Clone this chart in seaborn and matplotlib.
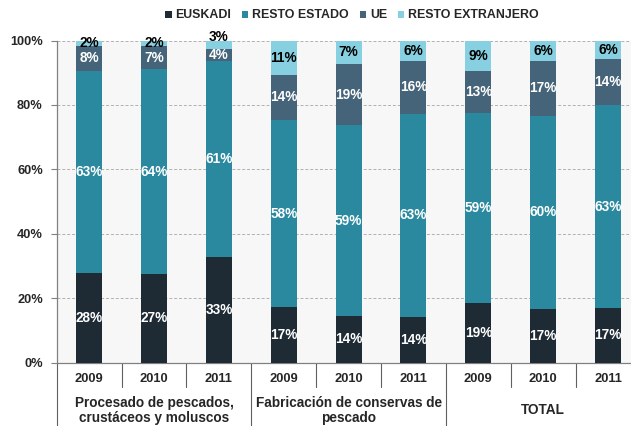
import numpy as np
import pandas as pd
import matplotlib
matplotlib.use("Agg")
import matplotlib.pyplot as plt
import seaborn as sns

## data (share of sales, %)
groups = ["Procesado de pescados,\ncrustáceos y moluscos",
          "Fabricación de conservas de\npescado",
          "TOTAL"]
years = ["2009", "2010", "2011"]
series = ["EUSKADI", "RESTO ESTADO", "UE", "RESTO EXTRANJERO"]
euskadi = [27.7, 27.4, 32.7, 17.1, 14.4, 14.1, 18.6, 16.6, 16.9]
resto_estado = [62.8, 63.6, 60.9, 58.2, 59.3, 63.2, 58.9, 60.0, 63.0]
ue = [7.9, 7.4, 3.8, 14.0, 19.0, 16.3, 13.1, 17.0, 14.3]
resto_extranjero = [1.6, 1.6, 2.6, 10.7, 7.3, 6.4, 9.4, 6.4, 5.8]

colors = ["#1e2b35", "#2a899f", "#456479", "#87d0e1"]
txt_colors = ["white", "white", "white", "black"]

sns.set_style("white")
plt.rcParams["font.family"] = ["Liberation Sans", "DejaVu Sans"]
plt.rcParams["font.weight"] = "bold"

cats = ["{}-{}".format(g, y) for g in range(len(groups)) for y in years]
vals = np.array([euskadi, resto_estado, ue, resto_extranjero])
cum = np.cumsum(vals, axis=0)

fig = plt.figure(figsize=(6.31, 4.26), dpi=100)
ax = fig.add_axes([56.7 / 631, 1 - 362.5 / 426, (640.5 - 56.7) / 631, 322 / 426])
ax.set_facecolor("#f7f7f7")

## stacked bars: draw cumulative totals from the top layer down
for i in range(len(series) - 1, -1, -1):
    df = pd.DataFrame({"cat": cats, "val": cum[i]})
    sns.barplot(data=df, x="cat", y="val", color=colors[i], width=0.4,
                saturation=1, ax=ax, label=series[i], zorder=3, linewidth=0)
handles, labels = ax.get_legend_handles_labels()
if ax.get_legend() is not None:
    ax.get_legend().remove()

## segment labels
for i in range(len(series)):
    for j in range(len(cats)):
        mid = cum[i, j] - vals[i, j] / 2
        # thin top segment over a thin UE segment: label sits above the bar
        if i == 3 and vals[i, j] > 2 and vals[i, j] < 3:
            mid = 101
        ax.text(j, mid, "{:.0f}%".format(vals[i, j]), ha="center", va="center",
                color=txt_colors[i], fontsize=9.8, fontweight="bold", zorder=5,
                clip_on=False)

ax.set_xlim(-0.5, 8.5)
ax.set_ylim(0, 100)
ax.set_yticks(np.arange(0, 101, 20))
ax.set_yticklabels(["{}%".format(v) for v in range(0, 101, 20)], fontsize=9.2,
                   fontweight="bold")
ax.tick_params(axis="y", length=4, width=0.8, color="#808080", pad=6, left=True)
ax.set_xticks([])
ax.set_xlabel("")
ax.set_ylabel("")
ax.yaxis.grid(True, linestyle=(0, (3, 2)), color="#b0b0b0", linewidth=0.7, zorder=0)
for s in ["top", "right"]:
    ax.spines[s].set_visible(False)
for s in ["left", "bottom"]:
    ax.spines[s].set_color("#808080")
    ax.spines[s].set_linewidth(0.9)

## category axis below the bars
trans = ax.get_xaxis_transform()
for j, y in enumerate(years * len(groups)):
    ax.text(j, -0.051, y, transform=trans, ha="center", va="center",
            fontsize=9.3, fontweight="bold")
for j in range(len(cats) + 1):
    low = -0.197 if j % 3 == 0 else -0.076
    ax.plot([j - 0.5, j - 0.5], [0, low], transform=trans, color="#606060",
            linewidth=0.8, clip_on=False)
for g, name in enumerate(groups):
    ax.text(3 * g + 1, -0.149, name, transform=trans, ha="center", va="center",
            fontsize=9.8, fontweight="bold", linespacing=1.1)

## legend
order = [labels.index(s) for s in series]
fig.legend([handles[k] for k in order], series, loc="center",
           bbox_to_anchor=(352 / 631, 1 - 15.5 / 426), ncol=4, frameon=False,
           handlelength=0.5, handleheight=0.5, handletextpad=0.3,
           columnspacing=0.9, prop={"weight": "bold", "size": 8.9})

fig.savefig("out.png", dpi=100)
